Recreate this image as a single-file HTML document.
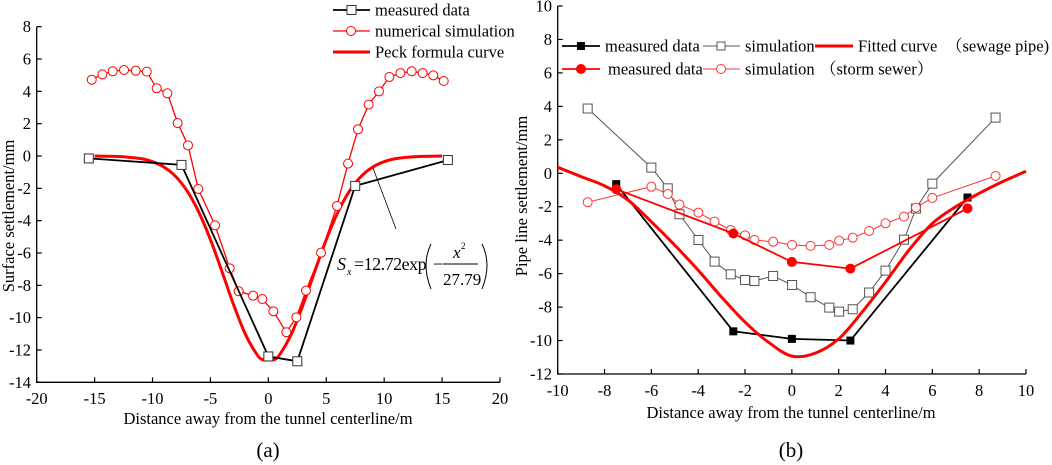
<!DOCTYPE html>
<html><head><meta charset="utf-8"><style>
html,body{margin:0;padding:0;background:#fff;}
svg{display:block;font-family:"Liberation Serif","Noto Serif CJK SC",serif;}
</style></head><body>
<svg id="fig" width="1052" height="465" viewBox="0 0 1052 465"></svg>
<script>
// ---- Chart (a) data ----
const aMeasX=[-15.5,-7.5,0,2.5,7.5,15.5];
const aMeasY=[-0.15,-0.55,-12.4,-12.7,-1.85,-0.25];
const aSimX=[-15.25,-14.33,-13.44,-12.46,-11.45,-10.5,-9.64,-8.72,-7.83,-6.94,-6.05,-4.6,-3.34,-2.56,-1.32,-0.52,0.43,1.55,2.42,3.25,4.55,5.93,6.88,7.74,8.66,9.55,10.45,11.4,12.37,13.32,14.24,15.14];
const aSimY=[4.72,5.05,5.24,5.32,5.28,5.22,4.19,3.88,2.04,0.66,-2.04,-4.29,-6.95,-8.37,-8.64,-8.85,-9.61,-10.9,-9.98,-8.33,-5.98,-3.09,-0.47,1.65,3.18,4.0,4.89,5.13,5.24,5.13,4.99,4.64];
const aPeckX=[-15,-13,-11,-10,-9,-8,-7,-6,-5,-4,-3,-2,-1,-0.5,0,0.5,1,2,3,4,5,6,7,8,9,10,11,13,15];
const aPeckY=[0,-0.03,-0.16,-0.35,-0.69,-1.27,-2.18,-3.48,-5.17,-7.15,-9.2,-11.0,-12.27,-12.6,-12.6,-12.6,-12.27,-11.0,-9.2,-7.15,-5.17,-3.48,-2.18,-1.27,-0.69,-0.35,-0.16,-0.03,0];
const aXTicks=[-20,-15,-10,-5,0,5,10,15,20];
const aYTicks=[8,6,4,2,0,-2,-4,-6,-8,-10,-12,-14];
// ---- Chart (b) data ----
const bMeasSewX=[-7.5,-2.5,0,2.5,7.5];
const bMeasSewY=[-0.65,-9.45,-9.9,-10,-1.45];
const bMeasStormX=[-7.5,-2.5,0,2.5,7.5];
const bMeasStormY=[-0.95,-3.6,-5.3,-5.7,-2.1];
const bSimX=[-8.72,-6.0,-5.3,-4.8,-3.99,-3.3,-2.61,-2.0,-1.6,-0.8,0.01,0.8,1.6,2.02,2.6,3.3,4.0,4.79,5.3,6.0,8.7];
const bSimSewY=[3.87,0.34,-0.9,-2.45,-3.99,-5.28,-6.04,-6.38,-6.44,-6.14,-6.68,-7.41,-8.03,-8.27,-8.13,-7.13,-5.82,-3.97,-2.11,-0.62,3.33];
const bSimStormY=[-1.73,-0.8,-1.24,-1.87,-2.35,-2.89,-3.39,-3.71,-3.99,-4.09,-4.28,-4.34,-4.28,-4.03,-3.85,-3.45,-2.99,-2.59,-2.05,-1.47,-0.16];
const bFitX=[-10,-9,-8,-7,-6,-5,-4,-3,-2,-1,0,1,2,3,4,5,6,7,8,9,10];
const bFitY=[0.36,-0.2,-0.75,-1.6,-2.9,-4.3,-5.8,-7.4,-8.9,-10.1,-10.93,-10.75,-9.9,-8.3,-6.5,-4.6,-3.0,-2.0,-1.2,-0.5,0.12];
const bXTicks=[-10,-8,-6,-4,-2,0,2,4,6,8,10];
const bYTicks=[10,8,6,4,2,0,-2,-4,-6,-8,-10,-12];

const NS="http://www.w3.org/2000/svg";
const svg=document.getElementById('fig');
const FS=16.5;
function mk(tag,attrs,parent,text){const e=document.createElementNS(NS,tag);for(const k in attrs)e.setAttribute(k,attrs[k]);if(text!==undefined)e.textContent=text;(parent||svg).appendChild(e);return e;}
function scale(d0,d1,r0,r1){return v=>r0+(v-d0)/(d1-d0)*(r1-r0);}
function pts(xs,ys,sx,sy){return xs.map((x,i)=>sx(x).toFixed(1)+','+sy(ys[i]).toFixed(1)).join(' ');}
function smooth(xs,ys,sx,sy){
 const p=xs.map((x,i)=>[sx(x),sy(ys[i])]);
 let d='M'+p[0][0].toFixed(1)+','+p[0][1].toFixed(1);
 for(let i=0;i<p.length-1;i++){
  const p0=p[i-1]||p[i],p1=p[i],p2=p[i+1],p3=p[i+2]||p[i+1];
  const c1=[p1[0]+(p2[0]-p0[0])/6,p1[1]+(p2[1]-p0[1])/6];
  const c2=[p2[0]-(p3[0]-p1[0])/6,p2[1]-(p3[1]-p1[1])/6];
  d+=`C${c1[0].toFixed(1)},${c1[1].toFixed(1)} ${c2[0].toFixed(1)},${c2[1].toFixed(1)} ${p2[0].toFixed(1)},${p2[1].toFixed(1)}`;
 }
 return d;
}

// ---------- chart a ----------
const gA=mk('g',{});


const ax=scale(-20,20,36.7,500), ay=scale(8,-14,26.7,382.3);
const axA=mk('path',{d:`M${ax(-20)},${ay(8)} V${ay(-14)} H${ax(20)}`,stroke:'#000','stroke-width':1.3,fill:'none'},gA);


aXTicks.forEach(t=>{mk('line',{x1:ax(t),x2:ax(t),y1:ay(-14),y2:ay(-14)-5,stroke:'#000','stroke-width':1.2},gA);
 const l=mk('text',{x:ax(t),y:404,'text-anchor':'middle','font-size':FS},gA,t);
 
 });
aYTicks.forEach(t=>{mk('line',{x1:ax(-20),x2:ax(-20)+5,y1:ay(t),y2:ay(t),stroke:'#000','stroke-width':1.2},gA);
 const l=mk('text',{x:31,y:ay(t)+5.5,'text-anchor':'end','font-size':FS},gA,t);
 
 });
const peck=mk('path',{d:smooth(aPeckX,aPeckY,ax,ay),fill:'none',stroke:'#f00','stroke-width':3,'stroke-linejoin':'round'},gA);


const simA=mk('polyline',{points:pts(aSimX,aSimY,ax,ay),fill:'none',stroke:'#f00','stroke-width':1.3},gA);


aSimX.forEach((x,i)=>{const c=mk('circle',{cx:ax(x),cy:ay(aSimY[i]),r:4.5,fill:'#fff',stroke:'#f00','stroke-width':1},gA);
 
 });
const measA=mk('polyline',{points:pts(aMeasX,aMeasY,ax,ay),fill:'none',stroke:'#000','stroke-width':1.8},gA);


aMeasX.forEach((x,i)=>{const r=mk('rect',{x:ax(x)-4.5,y:ay(aMeasY[i])-4.5,width:9,height:9,fill:'#fff',stroke:'#333','stroke-width':1},gA);
 
 });
// annotation
const lead=mk('line',{x1:373,y1:168,x2:396,y2:229,stroke:'#000','stroke-width':0.8},gA);


const eq=mk('g',{},gA);


mk('text',{x:337,y:270,'font-size':18,'font-style':'italic'},eq,'S');
mk('text',{x:347,y:275,'font-size':10,'font-style':'italic'},eq,'x');
mk('text',{x:354,y:270,'font-size':18,'letter-spacing':-0.5},eq,'=12.72exp');
mk('path',{d:'M431,244 Q421,264 431,289',stroke:'#000',fill:'none','stroke-width':1},eq);
mk('text',{x:433,y:270,'font-size':18},eq,'−');
mk('text',{x:453,y:258,'font-size':17,'font-style':'italic'},eq,'x');
mk('text',{x:461,y:249,'font-size':9},eq,'2');
mk('line',{x1:443,x2:478,y1:264,y2:264,stroke:'#000','stroke-width':1},eq);
mk('text',{x:443,y:285,'font-size':17},eq,'27.79');
mk('path',{d:'M482,244 Q492,264 482,289',stroke:'#000',fill:'none','stroke-width':1},eq);
// legend a
const legA=mk('g',{},gA);


const la=[{t:'measured data',y:10},{t:'numerical simulation',y:31},{t:'Peck formula curve',y:52}];
la.forEach((e,i)=>{
 const g=mk('g',{},legA);
 
 
 if(i==0){mk('line',{x1:333,x2:370,y1:e.y,y2:e.y,stroke:'#000','stroke-width':1.8},g);mk('rect',{x:347,y:e.y-4.5,width:9,height:9,fill:'#fff',stroke:'#333'},g);}
 if(i==1){mk('line',{x1:333,x2:370,y1:e.y,y2:e.y,stroke:'#f00','stroke-width':1.3},g);mk('circle',{cx:351,cy:e.y,r:4.5,fill:'#fff',stroke:'#f00'},g);}
 if(i==2){mk('line',{x1:333,x2:370,y1:e.y,y2:e.y,stroke:'#f00','stroke-width':3},g);}
 mk('text',{x:375,y:e.y+5.5,'font-size':FS},g,e.t);
});
const xtA=mk('text',{x:268,y:424,'text-anchor':'middle','font-size':FS},gA,'Distance away from  the tunnel centerline/m');


const ytA=mk('text',{x:0,y:0,'text-anchor':'middle','font-size':FS,transform:'translate(14,216) rotate(-90)'},gA,'Surface settlement/mm');


const capA=mk('text',{x:268,y:457,'text-anchor':'middle','font-size':21},gA,'(a)');



// ---------- chart b ----------
const gB=mk('g',{});


const bx=scale(-10,10,557.7,1026), by=scale(10,-12,6,374);
const axB=mk('path',{d:`M${bx(-10)},${by(10)} V${by(-12)} H${bx(10)}`,stroke:'#000','stroke-width':1.3,fill:'none'},gB);


bXTicks.forEach(t=>{mk('line',{x1:bx(t),x2:bx(t),y1:by(-12),y2:by(-12)-5,stroke:'#000','stroke-width':1.2},gB);
 const l=mk('text',{x:bx(t),y:396,'text-anchor':'middle','font-size':FS},gB,t);
 
 });
bYTicks.forEach(t=>{mk('line',{x1:bx(-10),x2:bx(-10)+5,y1:by(t),y2:by(t),stroke:'#000','stroke-width':1.2},gB);
 const l=mk('text',{x:552,y:by(t)+5.5,'text-anchor':'end','font-size':FS},gB,t);
 
 });
const simSew=mk('polyline',{points:pts(bSimX,bSimSewY,bx,by),fill:'none',stroke:'#555','stroke-width':1},gB);


bSimX.forEach((x,i)=>{const r=mk('rect',{x:bx(x)-4.5,y:by(bSimSewY[i])-4.5,width:9,height:9,fill:'#fff',stroke:'#555','stroke-width':1},gB);
 
 });
const simSt=mk('polyline',{points:pts(bSimX,bSimStormY,bx,by),fill:'none',stroke:'#f33','stroke-width':1},gB);


bSimX.forEach((x,i)=>{const c=mk('circle',{cx:bx(x),cy:by(bSimStormY[i]),r:4.5,fill:'#fff',stroke:'#f33','stroke-width':1},gB);
 
 });
const msew=mk('polyline',{points:pts(bMeasSewX,bMeasSewY,bx,by),fill:'none',stroke:'#000','stroke-width':1.8},gB);


bMeasSewX.forEach((x,i)=>{const r=mk('rect',{x:bx(x)-4,y:by(bMeasSewY[i])-4,width:8,height:8,fill:'#000'},gB);
 
 });
const mst=mk('polyline',{points:pts(bMeasStormX,bMeasStormY,bx,by),fill:'none',stroke:'#f00','stroke-width':1.8},gB);


bMeasStormX.forEach((x,i)=>{const c=mk('circle',{cx:bx(x),cy:by(bMeasStormY[i]),r:5,fill:'#f00'},gB);
 
 });
const fit=mk('path',{d:smooth(bFitX,bFitY,bx,by),fill:'none',stroke:'#f00','stroke-width':3,'stroke-linejoin':'round'},gB);


// legend b
const legB=mk('g',{},gB);


const y1=46,y2=69;
mk('line',{x1:562,x2:600,y1:y1,y2:y1,stroke:'#000','stroke-width':1.8},legB);
mk('rect',{x:577,y:y1-4,width:8,height:8,fill:'#000'},legB);
mk('text',{x:605,y:y1+5.5,'font-size':FS},legB,'measured data');
mk('line',{x1:703,x2:740,y1:y1,y2:y1,stroke:'#555','stroke-width':1},legB);
mk('rect',{x:717,y:y1-4,width:8,height:8,fill:'#fff',stroke:'#555'},legB);
mk('text',{x:745,y:y1+5.5,'font-size':FS},legB,'simulation');
mk('line',{x1:815,x2:853,y1:y1,y2:y1,stroke:'#f00','stroke-width':3},legB);
mk('text',{x:858,y:y1+5.5,'font-size':FS},legB,'Fitted curve');
mk('text',{x:946,y:y1+5.5,'font-size':FS},legB,'（sewage pipe)');
mk('line',{x1:562,x2:600,y1:y2,y2:y2,stroke:'#f00','stroke-width':1.8},legB);
mk('circle',{cx:581,cy:y2,r:5,fill:'#f00'},legB);
mk('text',{x:608,y:y2+5.5,'font-size':FS},legB,'measured data');
mk('line',{x1:703,x2:740,y1:y2,y2:y2,stroke:'#f33','stroke-width':1},legB);
mk('circle',{cx:721,cy:y2,r:4.5,fill:'#fff',stroke:'#f33'},legB);
mk('text',{x:745,y:y2+5.5,'font-size':FS},legB,'simulation');
mk('text',{x:820,y:y2+5.5,'font-size':FS},legB,'（storm sewer）');
const xtB=mk('text',{x:791,y:418,'text-anchor':'middle','font-size':FS},gB,'Distance away from  the tunnel centerline/m');


const ytB=mk('text',{x:0,y:0,'text-anchor':'middle','font-size':FS,transform:'translate(527,196) rotate(-90)'},gB,'Pipe line settlement/mm');


const capB=mk('text',{x:791,y:457,'text-anchor':'middle','font-size':21},gB,'(b)');


</script>
</body></html>
